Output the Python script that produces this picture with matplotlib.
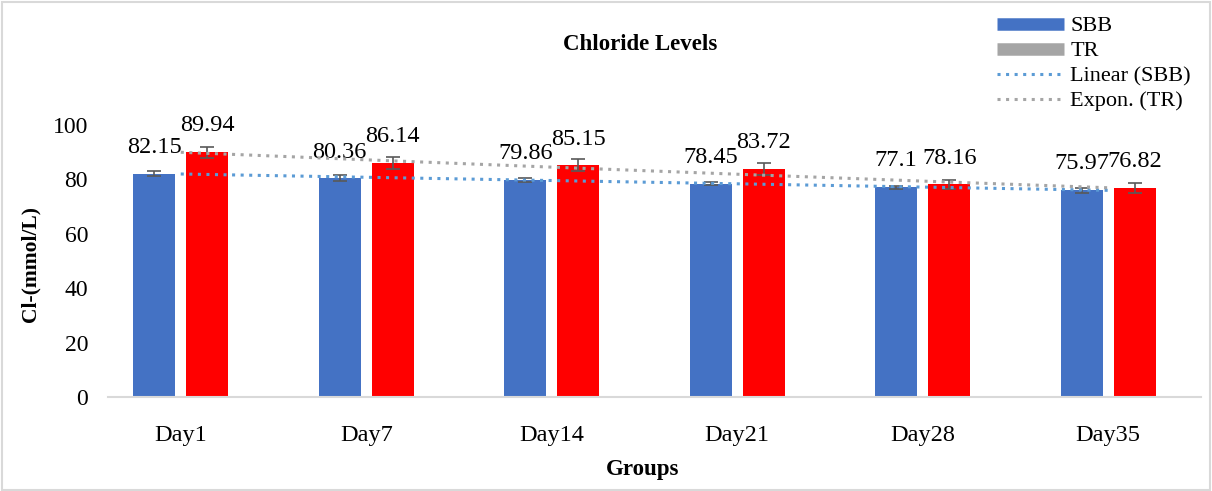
import numpy as np
import matplotlib
matplotlib.use("Agg")
import matplotlib.pyplot as plt
from matplotlib.patches import Rectangle
from matplotlib.lines import Line2D

categories = ["Day1", "Day7", "Day14", "Day21", "Day28", "Day35"]
sbb = [82.15, 80.36, 79.86, 78.45, 77.1, 75.97]
tr = [89.94, 86.14, 85.15, 83.72, 78.16, 76.82]
sbb_err = [0.8, 1.1, 0.8, 0.6, 0.6, 1.0]
tr_err = [2.0, 2.2, 2.2, 2.2, 1.6, 1.8]
yticks = [0, 20, 40, 60, 80, 100]

plt.rcParams['font.family'] = ['Liberation Serif', 'DejaVu Serif']

fig = plt.figure(figsize=(12.12, 4.91), dpi=100)
ax = fig.add_axes([88/1212, 1-397/491, (1201-88)/1212, (397-125)/491])

x = np.arange(len(categories))
w = 0.227
off = 0.143
blue = "#4472C4"
red = "#FF0000"
errc = "#595959"

ax.bar(x - off, sbb, w, color=blue, zorder=2)
ax.bar(x + off, tr, w, color=red, zorder=2)
ax.errorbar(x - off, sbb, yerr=sbb_err, fmt='none', ecolor=errc, elinewidth=1.2, capsize=4.7, capthick=1.2, zorder=3)
ax.errorbar(x + off, tr, yerr=tr_err, fmt='none', ecolor=errc, elinewidth=1.2, capsize=4.7, capthick=1.2, zorder=3)

# trendlines
xs = np.arange(1, len(categories) + 1)
b1, a1 = np.polyfit(xs, sbb, 1)
lin = a1 + b1 * xs
b2, a2 = np.polyfit(xs, np.log(tr), 1)
expo = np.exp(a2 + b2 * xs)
dots = (0, (1.0, 1.8))
ax.plot(x, lin, linestyle=dots, color="#5B9BD5", lw=2.2, zorder=4)
ax.plot(x, expo, linestyle=dots, color="#A5A5A5", lw=2.2, zorder=4)

# labels
for i in range(len(categories)):
    ax.annotate(f"{sbb[i]:g}", (x[i] - off, sbb[i]), xytext=(0, 19), textcoords='offset points',
                ha='center', va='center', fontsize=17.5, annotation_clip=False)
    ax.annotate(f"{tr[i]:g}", (x[i] + off, tr[i]), xytext=(0, 19), textcoords='offset points',
                ha='center', va='center', fontsize=17.5, annotation_clip=False)

ax.set_xlim(-0.5, len(categories) - 0.5)
ax.set_ylim(0, 100)
ax.set_yticks(yticks)
ax.set_xticks(x)
ax.set_xticklabels(categories, fontsize=17.5)
ax.tick_params(axis='y', labelsize=17, length=0, pad=0)
ax.tick_params(axis='x', length=0, pad=20)
for s in ['top', 'right', 'left']:
    ax.spines[s].set_visible(False)
ax.spines['bottom'].set_color('#D9D9D9')
ax.spines['bottom'].set_linewidth(1.5)
ax.spines['bottom'].set_bounds(-0.39, len(categories) - 0.5)

fig.text(640/1212, 1-45/491, "Chloride Levels", ha='center', va='center', fontsize=16.5, fontweight='bold')
fig.text(643/1212, 1-470/491, "Groups", ha='center', va='center', fontsize=16.5, fontweight='bold')
fig.text(30/1212, 1-264/491, "Cl-(mmol/L)", ha='center', va='center', rotation=90, fontsize=15.5, fontweight='bold')

handles = [
    Line2D([0], [0], color=blue, lw=9, solid_capstyle='butt'),
    Line2D([0], [0], color="#A5A5A5", lw=9, solid_capstyle='butt'),
    Line2D([0], [0], color="#5B9BD5", lw=2.2, linestyle=dots),
    Line2D([0], [0], color="#A5A5A5", lw=2.2, linestyle=dots),
]
labels = ["SBB", "TR", "Linear (SBB)", "Expon. (TR)"]
fig.legend(handles, labels, loc='upper left', bbox_to_anchor=(988/1212, 1-7/491), frameon=False,
           fontsize=16, handlelength=3.0, handletextpad=0.3, labelspacing=0.2, borderaxespad=0)

fig.add_artist(Rectangle((0.002, 0.002), 0.996, 0.994, transform=fig.transFigure, fill=False,
                         edgecolor='#D9D9D9', lw=1.5))

fig.savefig("out.png", dpi=100)
